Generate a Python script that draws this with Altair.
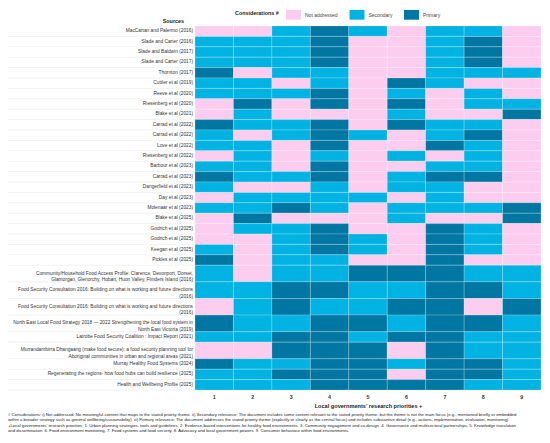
import altair as alt
import pandas as pd

sources = [
    "MacCartan and Palermo (2016)",
    "Slade and Carter (2016)",
    "Slade and Baldwin (2017)",
    "Slade and Carter (2017)",
    "Thornton (2017)",
    "Cuttler et al (2019)",
    "Reeve et al (2020)",
    "Riesenberg et al (2020)",
    "Blake et al (2021)",
    "Carrad et al (2022)",
    "Carrad et al (2022)",
    "Love et al (2022)",
    "Riesenberg et al (2022)",
    "Barbour et al (2023)",
    "Carrad et al (2023)",
    "Dangerfield et al (2023)",
    "Day et al (2023)",
    "Molenaar et al (2023)",
    "Blake et al (2025)",
    "Godrich et al (2025)",
    "Godrich et al (2025)",
    "Keegan et al (2025)",
    "Pickles et al (2025)",
    "Community/Household Food Access Profile: Clarence, Devonport, Dorset,\nGlamorgan, Glenorchy, Hobart, Huon Valley, Flinders Island (2016)",
    "Food Security Consultation 2016: Building on what is working and future directions\n(2016)",
    "Food Security Consultation 2016: Building on what is working and future directions\n(2016)",
    "North East Local Food Strategy 2018 \u2014 2022 Strengthening the local food system in\nNorth East Victoria (2019)",
    "Latrobe Food Security Coalition : Impact Report (2021)",
    "Murrandambirra Dhangaang (make food secure): a food security planning tool for\nAboriginal communities in urban and regional areas (2021)",
    "Murray Healthy Food Systems (2024)",
    "Regenerating the regions- how food hubs can build resilience (2025)",
    "Health and Wellbeing Profile (2025)",
]

# N = Not addressed, S = Secondary, P = Primary ; priorities 1..9
status = [
    "NNSPSNSSN", "SSSPNNSPN", "SSSPNNSPN", "SSSPNNSPN", "PNSSNNSSS",
    "SSNSNPSNN", "SSSPNSNSN", "NPNPNPNSS", "NSNNNSNNP", "PSSPNPSSN",
    "SNSPSNSPN", "SSNPNNPSN", "NSNSNSNSN", "SSNPNNSSN", "PSSPNSPPN",
    "SNNSNSSNN", "NSSSSNSNN", "SSPSNSSSP", "NPNNNSNNP", "NSSPNNPSN",
    "NNSPSNPSN", "SNSPSNPSN", "PNSSNNPNN", "SNSSPPPSS", "SSPPSSPPS",
    "NSPSSPPNP", "PSSPPSPPS", "SSPPSPPSS", "NNPPPNPSS", "PSSPPSPPS",
    "SSPPPNPPS", "SSSPPPPSS",
]

priorities = ["1", "2", "3", "4", "5", "6", "7", "8", "9"]
categories = ["Not addressed", "Secondary", "Primary"]
colors = ["#fdcdef", "#00b3e2", "#0076a3"]
code_map = {"N": "Not addressed", "S": "Secondary", "P": "Primary"}

footnote = [
    "# Considerations: i) Not addressed: No meaningful content that maps to the stated priority theme. ii) Secondary relevance: The document includes some content relevant to the stated priority theme, but the theme is not the main focus (e.g., mentioned briefly or embedded",
    "within a broader strategy such as general wellbeing/sustainability).  iii) Primary relevance: The document addresses the stated priority theme (explicitly or clearly as the central focus) and includes substantive detail (e.g., actions, implementation, evaluation, monitoring).",
    "+Local governments' research priorities: 1. Urban planning strategies, tools and guidelines.  2. Evidence-based interventions for healthy food environments.  3. Community engagement and co-design.  4. Governance and multisectoral partnerships.  5. Knowledge translation",
    "and dissemination.  6. Food environment monitoring.  7. Food systems and food security.  8. Advocacy and local government powers.  9. Consumer behaviour within food environments.",
]

# row extents (multi-line labels get taller rows)
rows = []
cells = []
pos = 0.0
for i, (src, st) in enumerate(zip(sources, status)):
    n = src.count("\n") + 1
    h = 1 + 0.6 * (n - 1)
    rows.append({"idx": i, "label": src, "y0": pos, "y1": pos + h, "ym": pos + h / 2})
    for p, c in zip(priorities, st):
        cells.append({"idx": i, "priority": p, "y0": pos, "y1": pos + h, "status": code_map[c]})
    pos += h
total = pos

rows_df = pd.DataFrame(rows)
cells_df = pd.DataFrame(cells)

W, H = 346, 364
FONT = "Liberation Sans"
yscale = alt.Scale(domain=[0, total], reverse=True, nice=False, zero=False)

heat = alt.Chart(cells_df).mark_rect(stroke="white", strokeWidth=0.6, strokeOpacity=0.35).encode(
    x=alt.X("priority:O", sort=priorities,
            scale=alt.Scale(paddingInner=0, paddingOuter=0),
            axis=alt.Axis(title="Local governments\u2019 research priorities +", labelAngle=0,
                          labelFontWeight="bold", labelFontSize=5.3, labelColor="#333",
                          ticks=False, domain=False, labelPadding=4,
                          titleFontSize=5.6, titleFontWeight="bold", titleColor="#222",
                          titlePadding=4, labelFont=FONT, titleFont=FONT)),
    y=alt.Y("y0:Q", scale=yscale, axis=None),
    y2="y1:Q",
    color=alt.Color("status:N", scale=alt.Scale(domain=categories, range=colors),
                    legend=alt.Legend(title="Considerations #", orient="none",
                                      direction="horizontal", titleOrient="left",
                                      legendX=40, legendY=-19,
                                      symbolType="M-1,-0.65H1V0.65H-1Z", symbolSize=225,
                                      symbolStrokeWidth=0, labelFontSize=5.0,
                                      labelColor="#444", titleFontSize=5.4,
                                      titleFontWeight="bold", titleColor="#222",
                                      columnPadding=11.5, labelOffset=4, titlePadding=7,
                                      labelFont=FONT, titleFont=FONT)),
)

seps = alt.Chart(rows_df).mark_rule(color="#e8e8e8", strokeWidth=0.6).encode(
    y=alt.Y("y1:Q", scale=yscale, axis=None),
    x=alt.value(-187),
    x2=alt.value(0),
)

labels = alt.Chart(rows_df).mark_text(align="right", baseline="middle", fontSize=4.8,
                                      color="#333", lineBreak="\n", lineHeight=6.6,
                                      font=FONT).encode(
    y=alt.Y("ym:Q", scale=yscale, axis=None),
    x=alt.value(-2),
    text="label:N",
)

header = alt.Chart(pd.DataFrame({"t": ["Sources"]})).mark_text(
    align="right", baseline="middle", fontSize=5.4, fontWeight="bold", color="#222", font=FONT
).encode(text="t:N", x=alt.value(-11), y=alt.value(-5))

foot = alt.Chart(pd.DataFrame({"t": ["\n".join(footnote)]})).mark_text(
    align="left", baseline="middle", fontSize=4.25, color="#222", font=FONT,
    lineBreak="\n", lineHeight=5.5,
).encode(text="t:N", x=alt.value(-187), y=alt.value(388.5))

chart = alt.layer(seps, heat, labels, header, foot).properties(
    width=W, height=H,
    autosize=alt.AutoSizeParams(type="none"),
    padding={"left": 187, "top": 18, "right": 1, "bottom": 45},
).configure_view(stroke=None)

chart.save("out.html", embed_options={"renderer": "svg", "actions": False})
